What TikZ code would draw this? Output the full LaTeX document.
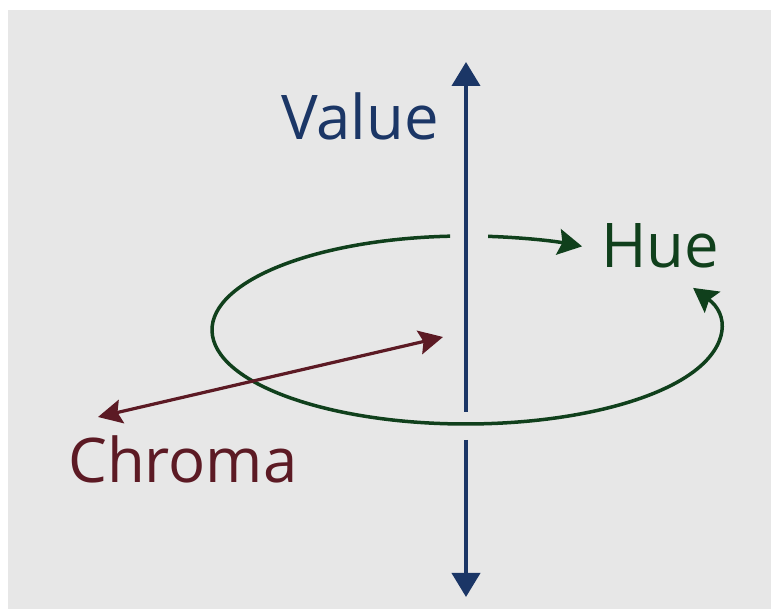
\documentclass[tikz,border=0pt]{standalone}
\usepackage{fontspec}
\setmainfont{Open Sans}
\usetikzlibrary{arrows.meta}
\definecolor{valblue}{RGB}{27,54,102}
\definecolor{huegreen}{RGB}{16,64,28}
\definecolor{chromared}{RGB}{92,26,36}
\definecolor{bggray}{RGB}{231,231,231}
\tikzset{
  lbl/.style={anchor=base west, inner sep=0pt, font=\fontsize{61.6}{70}\selectfont},
  tipv/.style={-{Triangle[length=24pt,width=28pt]}},
  valline/.style={draw=valblue, line width=4pt},
  hueline/.style={draw=huegreen, line width=3.5pt},
  chromaline/.style={draw=chromared, line width=3.2pt},
}
\begin{document}
\begin{tikzpicture}[x=1pt,y=1pt]
\useasboundingbox (0,0) rectangle (771,609);
\fill[bggray] (8,0) rectangle (771,599);
% coordinates
\coordinate (c) at (466,279);
\coordinate (vtop) at (466,547);
\coordinate (vtopstart) at (466,197);
\coordinate (vbotstart) at (466,169);
\coordinate (vbot) at (466,12);
\coordinate (chl) at (98,192);
\coordinate (chr) at (443,272);
% labels
\node[lbl, text=valblue] (value) at (281,469) {Value};
\node[lbl, text=huegreen] (hue) at (601,341) {Hue};
\node[lbl, text=chromared] (chroma) at (68,126) {Chroma};
% hue ellipse
\draw[hueline, -{Stealth[length=24pt,width=26pt,inset=4pt]}] (c) ++(93.6:254pt and 94pt)
  arc[start angle=93.6, end angle=386.6, x radius=254pt, y radius=94pt];
\draw[hueline, -{Stealth[length=24pt,width=26pt,inset=4pt]}] (c) ++(85:254pt and 94pt)
  arc[start angle=85, end angle=62.8, x radius=254pt, y radius=94pt];
% chroma
\draw[chromaline, {Stealth[length=24pt,width=24pt,inset=4pt]}-{Stealth[length=24pt,width=24pt,inset=4pt]}] (chl) -- (chr);
% value axis
\draw[valline, tipv] (vtopstart) -- (vtop);
\draw[valline, tipv] (vbotstart) -- (vbot);
\end{tikzpicture}
\end{document}
